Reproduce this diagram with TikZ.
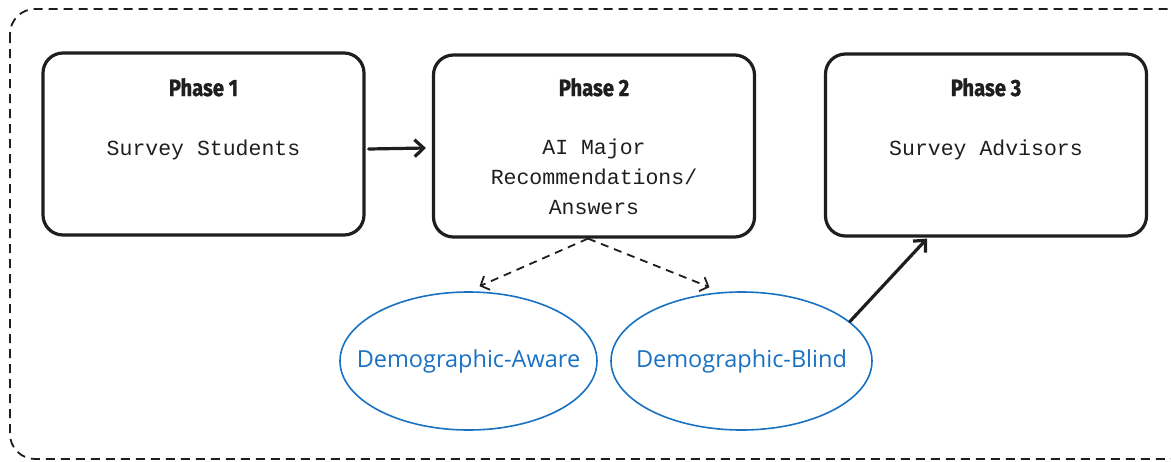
\documentclass[tikz,border=0pt]{standalone}
\usepackage{fontspec}
\usetikzlibrary{arrows.meta,shapes.geometric}
\newfontfamily\titlefont{Fira Sans}[FakeStretch=0.86, BoldFeatures={FakeBold=1.3}]
\newfontfamily\handfont{Liberation Mono}
\newfontfamily\labelfont{Open Sans}
\definecolor{inkblue}{HTML}{1971C2}
\definecolor{ink}{HTML}{1E1E1E}
\tikzset{
  phasebox/.style={draw=ink, line width=3.2pt, rounded corners=20pt,
    minimum width=321pt, minimum height=182pt, inner sep=0pt},
  phasetitle/.style={anchor=base, font=\titlefont\bfseries\fontsize{23.5}{28}\selectfont, text=ink},
  phasebody/.style={anchor=base, align=center, text=ink,
    font=\handfont\fontsize{21.5}{30}\selectfont},
  variant/.style={ellipse, draw=inkblue, line width=1.6pt,
    minimum height=138pt, inner sep=0pt},
  variantlabel/.style={text=inkblue, font=\labelfont\fontsize{23.5}{28}\selectfont},
  flow/.style={draw=ink, line width=3.2pt, line cap=round,
    -{Straight Barb[length=9pt,width=17pt,line width=3.2pt]}},
  branch/.style={draw=ink, line width=1.8pt, dash pattern=on 8pt off 6pt,
    -{Straight Barb[length=7pt,width=15pt,line width=1.8pt]}},
}
\begin{document}
\begin{tikzpicture}[x=1pt,y=-1pt]
  \useasboundingbox (0,0) rectangle (1171,461);
  \begin{scope}
    \clip (0,0) rectangle (1171,461);
    % dashed frame around the whole study
    \draw[ink, line width=1.8pt, dash pattern=on 9pt off 6pt, rounded corners=25pt]
      (10,9) rectangle (1195,459);
  \end{scope}

  % the three phases
  \node[phasebox] (p1) at (203.5,144) {};
  \node[phasebox] (p2) at (594,146) {};
  \node[phasebox] (p3) at (986,145) {};

  \node[phasetitle] (p1t) at (203.5,96) {Phase 1};
  \node[phasetitle] (p2t) at (594,96) {Phase 2};
  \node[phasetitle] (p3t) at (986,96) {Phase 3};

  \node[phasebody] (p1b) at (203.5,155) {Survey Students};
  \node[phasebody, anchor=north] (p2b) at (594,135)
    {AI Major\\Recommendations/\\Answers};
  \node[phasebody] (p3b) at (986,155) {Survey Advisors};

  % the two recommendation settings
  \node[variant, minimum width=257pt] (aw) at (468.5,361) {};
  \node[variant, minimum width=261pt] (bl) at (741.5,361) {};
  \node[variantlabel] (awt) at (aw.center) {Demographic-Aware};
  \node[variantlabel] (blt) at (bl.center) {Demographic-Blind};

  % connectors
  \draw[flow] ([xshift=3pt,yshift=-5pt]p1.east) -- ([xshift=-6pt,yshift=-2pt]p2.west);
  \draw[branch] ([xshift=-6pt]p2.south) -- ([xshift=11pt,yshift=5pt]aw.north);
  \draw[branch] ([xshift=-6pt]p2.south) -- ([xshift=-32pt,yshift=4pt]bl.north);
  \draw[flow] (bl.20) -- ([xshift=-59pt,yshift=-1pt]p3.south);
\end{tikzpicture}
\end{document}
